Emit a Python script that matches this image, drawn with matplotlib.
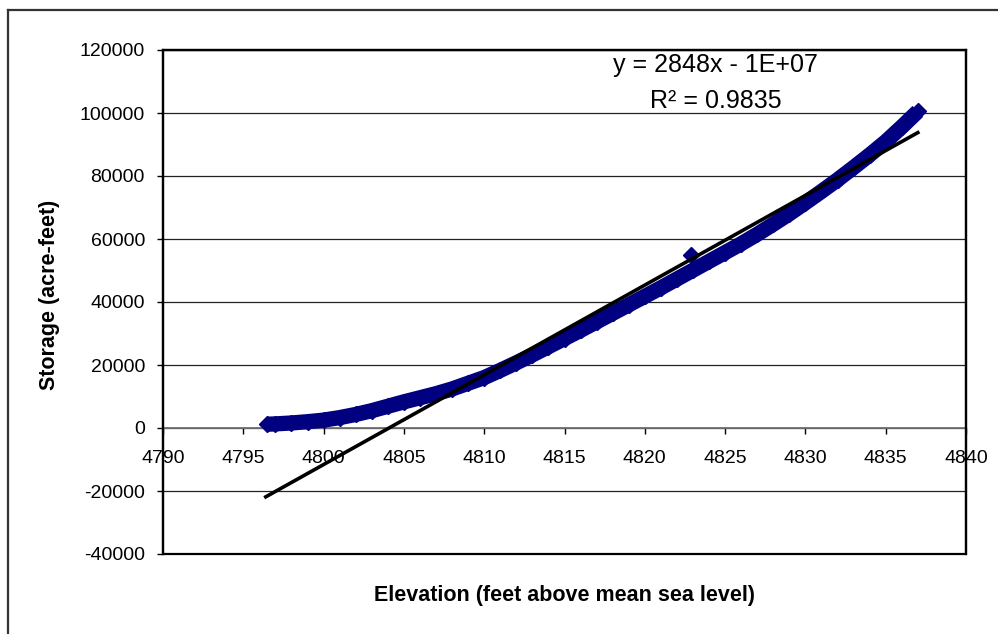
import numpy as np
import matplotlib
matplotlib.use("Agg")
import matplotlib.pyplot as plt
from matplotlib.patches import Rectangle
from matplotlib.lines import Line2D

plt.rcParams['font.family'] = ['Liberation Sans', 'DejaVu Sans']

# ---- data ----
elevation = [4796.5, 4797, 4798, 4799, 4800, 4801, 4802, 4803, 4804, 4805,
             4806, 4807, 4808, 4809, 4810, 4811, 4812, 4813, 4814, 4815,
             4816, 4817, 4818, 4819, 4820, 4821, 4822, 4823, 4824, 4825,
             4826, 4827, 4828, 4829, 4830, 4831, 4832, 4833, 4834, 4835,
             4836, 4837]
storage = [1200, 1300, 1600, 2000, 2500, 3300, 4300, 5500, 6900, 8300,
           9600, 10900, 12400, 14200, 16000, 18300, 20700, 23200, 25800, 28400,
           31000, 33700, 36400, 39100, 41800, 44500, 47300, 50100, 52900, 55700,
           58500, 61500, 64700, 68000, 71500, 75100, 78800, 82700, 86700, 90900,
           95600, 100500]
outlier_elevation = [4822.9]
outlier_storage = [54900]

# linear trendline (slope shown, intercept)
trend_slope = 2848.0
trend_intercept = -13682000.0
trend_range = [4796.4, 4837.0]

x_ticks = [4790, 4795, 4800, 4805, 4810, 4815, 4820, 4825, 4830, 4835, 4840]
y_ticks = [-40000, -20000, 0, 20000, 40000, 60000, 80000, 100000, 120000]
x_label = "Elevation (feet above mean sea level)"
y_label = "Storage (acre-feet)"
eq_text = "y = 2848x - 1E+07"
r2_text = "R\u00b2 = 0.9835"

W, H = 998, 634
fig = plt.figure(figsize=(W / 100, H / 100), dpi=100)

def fx(px):
    return px / W

def fy(py):
    return 1 - py / H

ax_left, ax_right, ax_top, ax_bottom = 163, 966, 50, 554
ax = fig.add_axes([fx(ax_left), fy(ax_bottom), fx(ax_right - ax_left),
                   (ax_bottom - ax_top) / H])

navy = '#000080'
all_x = np.array(elevation + outlier_elevation, dtype=float)
all_y = np.array(storage + outlier_storage, dtype=float)

# storage band
ax.plot(elevation, storage, color=navy, lw=11, solid_capstyle='butt',
        solid_joinstyle='round', zorder=3)
ax.plot(all_x, all_y, linestyle='none', marker='D', ms=8.5, color=navy,
        markeredgecolor=navy, zorder=3)

# linear trendline
tx = np.array(trend_range)
ax.plot(tx, trend_slope * tx + trend_intercept, color='black', lw=2.6, zorder=4)

ax.set_xlim(x_ticks[0], x_ticks[-1])
ax.set_ylim(y_ticks[0], y_ticks[-1])
ax.set_xticks(x_ticks)
ax.set_yticks(y_ticks)
ax.set_xticklabels([str(v) for v in x_ticks])
ax.set_yticklabels([str(v) for v in y_ticks])

ax.yaxis.grid(True, color='#222222', lw=0.9, zorder=0)
ax.set_axisbelow(True)

for s in ['top', 'right', 'left']:
    ax.spines[s].set_linewidth(1.6)
    ax.spines[s].set_color('black')
ax.spines['bottom'].set_position(('data', 0))
ax.spines['bottom'].set_color('#707070')
ax.spines['bottom'].set_linewidth(1.3)

ax.add_patch(Rectangle((0, 0), 1, 1, transform=ax.transAxes, fill=False,
                       edgecolor='black', lw=1.6, clip_on=False, zorder=5))

ax.tick_params(axis='y', direction='out', length=4, width=1, pad=9,
               labelsize=14, color='black')
ax.tick_params(axis='x', direction='out', length=4, width=1, pad=12,
               labelsize=14, color='black')

# axis titles
fig.text(fx((ax_left + ax_right) / 2), fy(601), x_label, ha='center',
         va='baseline', fontsize=15.5, fontweight='bold')
fig.text(fx(50), fy(295), y_label, ha='center',
         va='center', rotation=90, fontsize=15.5, fontweight='bold')

# trendline label
fig.text(fx(715), fy(72), eq_text, ha='center', va='baseline', fontsize=18)
fig.text(fx(716), fy(108), r2_text, ha='center', va='baseline', fontsize=18)

# chart border (cropped on right/bottom in the reference)
fig.add_artist(Line2D([fx(8), fx(8)], [fy(10), fy(H + 20)], color='#333333', lw=1.6))
fig.add_artist(Line2D([fx(8), fx(W + 20)], [fy(10), fy(10)], color='#333333', lw=1.6))

fig.savefig('out.png', dpi=100)
